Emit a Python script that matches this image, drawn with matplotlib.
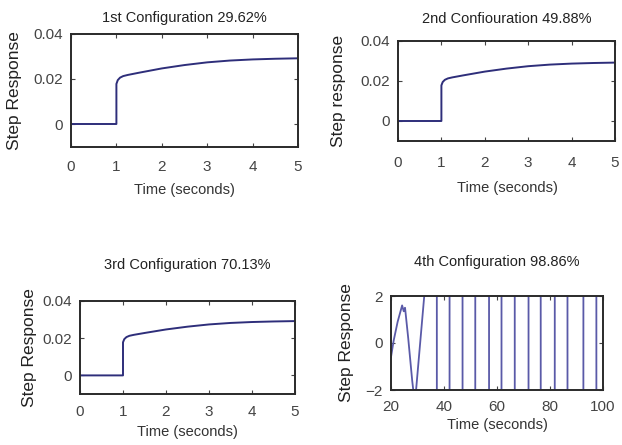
import numpy as np
import matplotlib.pyplot as plt

plt.rcParams['font.family'] = ['Liberation Sans', 'DejaVu Sans']

# step response curves (panels 1-3 share the same shape)
t_step = [0, 1.0, 1.0, 1.03, 1.08, 1.15, 1.25, 1.5, 2.0, 2.5, 3.0, 3.5, 4.0, 4.5, 5.0]
y_step = [0, 0, 0.0178, 0.0195, 0.0206, 0.0213, 0.0218, 0.0228, 0.0247,
          0.0262, 0.0274, 0.0282, 0.0287, 0.0290, 0.0292]

# 4th configuration: unstable oscillation, grows past the axis
t_osc = [20, 21, 22.5, 24.2, 24.8, 25.3, 26.5, 28.0, 29.0, 32.7, 32.9,
         37.2, 37.4, 42.0, 42.2, 46.9, 47.1, 51.7, 51.9, 56.9, 57.1,
         61.6, 61.8, 66.6, 66.8, 71.8, 72.0, 76.4, 76.6, 81.7, 81.9,
         86.5, 86.7, 92.5, 92.7, 97.4, 97.6, 100]
y_osc = [-0.6, 0.1, 0.9, 1.6, 1.35, 1.5, 0.2, -1.6, -2.6, 2.2, 60,
         60, -60, -60, 60, 60, -60, -60, 60, 60, -60,
         -60, 60, 60, -60, -60, 60, 60, -60, -60, 60,
         60, -60, -60, 60, 60, -60, -60]

titles = ["1st Configuration 29.62%", "2nd Confiouration 49.88%",
          "3rd Configuration 70.13%", "4th Configuration 98.86%"]
ylabels = ["Step Response", "Step response", "Step Response", "Step Response"]
xlabel = "Time (seconds)"

W, H = 622, 445
fig = plt.figure(figsize=(W / 100, H / 100), dpi=100)

# axes boxes in pixels: left, top, right, bottom
boxes = [(71, 34, 298, 146.5), (398, 41, 615, 141),
         (80, 301, 295, 394), (391, 296, 603, 390)]
title_xy = [(184, 18), (507, 19), (187, 265), (497, 262)]
xlab_xy = [(184, 190), (507, 188), (187, 432), (497, 425)]
ylab_x = [15, 339, 30, 346]
xpads = [10, 11, 8, 7]

line_col = '#2e2e7a'
osc_col = '#5a5aa8'

for i, (l, t, r, b) in enumerate(boxes):
    ax = fig.add_axes([l / W, 1 - b / H, (r - l) / W, (b - t) / H])
    if i < 3:
        ax.plot(t_step, y_step, color=line_col, lw=1.4)
        ax.set_xlim(0, 5)
        ax.set_ylim(-0.01, 0.04)
        ax.set_xticks([0, 1, 2, 3, 4, 5])
        ax.set_yticks([0, 0.02, 0.04])
        ax.set_yticklabels(['0', '0.02', '0.04'])
    else:
        ax.plot(t_osc, y_osc, color=osc_col, lw=1.3)
        ax.set_xlim(20, 100)
        ax.set_ylim(-2, 2)
        ax.set_xticks([20, 40, 60, 80, 100])
        ax.set_yticks([-2, 0, 2])
    ax.tick_params(direction='in', top=True, right=True, labelsize=11,
                   colors='#444444', length=3, width=0.8, pad=6)
    ax.tick_params(axis='x', pad=xpads[i])
    for sp in ax.spines.values():
        sp.set_color('#2a2a2a')
        sp.set_linewidth(1.4)

    fig.text(title_xy[i][0] / W, 1 - title_xy[i][1] / H, titles[i],
             ha='center', va='center', fontsize=10.5, color='#222222')
    fig.text(xlab_xy[i][0] / W, 1 - xlab_xy[i][1] / H, xlabel,
             ha='center', va='center', fontsize=10.5, color='#333333')
    fig.text(ylab_x[i] / W, 1 - ((t + b) / 2) / H, ylabels[i],
             ha='center', va='center', rotation=90, fontsize=12.5, color='#222222')

fig.savefig('out.png', dpi=100)
